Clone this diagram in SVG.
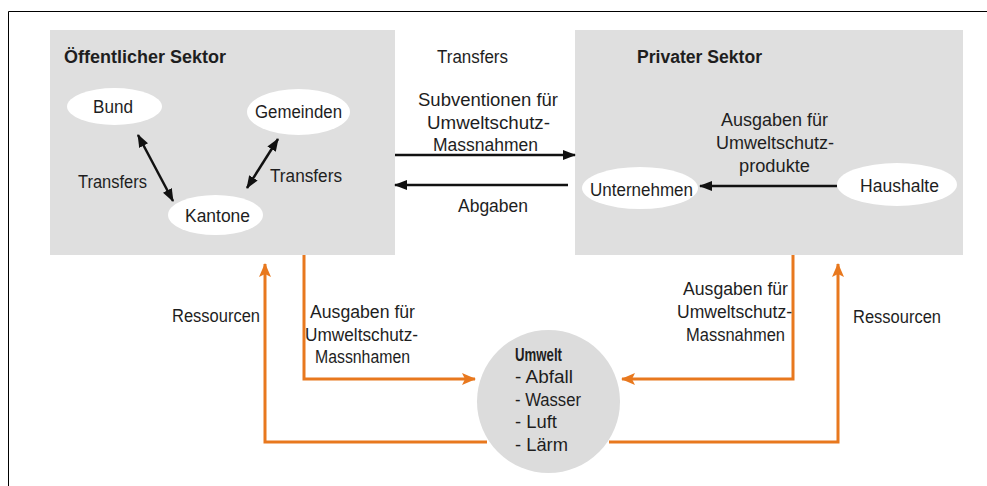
<svg xmlns="http://www.w3.org/2000/svg" width="987" height="486" viewBox="0 0 987 486">
<defs>
<style>
text{font-family:"Liberation Sans",Arial,sans-serif;font-size:17.5px;fill:#1e1e1e}
.b{font-weight:bold}
.box{fill:#dfdfdf}
.ell{fill:#ffffff}
.blk{stroke:#111;stroke-width:2.5;fill:none}
.org{stroke:#e8781e;stroke-width:3;fill:none}
</style>
<marker id="ab" markerUnits="userSpaceOnUse" viewBox="0 0 13 10" refX="12" refY="5" markerWidth="13" markerHeight="10" orient="auto-start-reverse">
<path d="M0,0 L13,5 L0,10 z" fill="#111"/>
</marker>
<marker id="ao" markerUnits="userSpaceOnUse" viewBox="0 0 14 12" refX="13" refY="6" markerWidth="14" markerHeight="12" orient="auto">
<path d="M0,0 L14,6 L0,12 L3,6 z" fill="#e8781e"/>
</marker>
</defs>
<rect width="987" height="486" fill="#fff"/>
<path d="M8.5 486 V11.5 H987" fill="none" stroke="#000" stroke-width="1"/>

<g id="oeffentlicher-sektor">
<rect class="box" x="50" y="30" width="345" height="225"/>
<text class="b" x="64" y="63" textLength="162" lengthAdjust="spacingAndGlyphs">Öffentlicher Sektor</text>
</g>
<g id="privater-sektor">
<rect class="box" x="575" y="30" width="388" height="225"/>
<text class="b" x="637" y="63" textLength="125" lengthAdjust="spacingAndGlyphs">Privater Sektor</text>
</g>
<g id="bund">
<ellipse class="ell" cx="114.5" cy="106.5" rx="47.5" ry="18.5"/>
<text x="93" y="113" textLength="40" lengthAdjust="spacingAndGlyphs">Bund</text>
</g>
<g id="gemeinden">
<ellipse class="ell" cx="298.5" cy="112" rx="51.5" ry="23"/>
<text x="255" y="118" textLength="87" lengthAdjust="spacingAndGlyphs">Gemeinden</text>
</g>
<g id="kantone">
<ellipse class="ell" cx="215.5" cy="215" rx="47.5" ry="20"/>
<text x="185" y="222" textLength="65" lengthAdjust="spacingAndGlyphs">Kantone</text>
</g>
<g id="unternehmen">
<ellipse class="ell" cx="640" cy="188" rx="58" ry="21"/>
<text x="590" y="196" textLength="103" lengthAdjust="spacingAndGlyphs">Unternehmen</text>
</g>
<g id="haushalte">
<ellipse class="ell" cx="897" cy="184.5" rx="60" ry="21.5"/>
<text x="860" y="192" textLength="79" lengthAdjust="spacingAndGlyphs">Haushalte</text>
</g>
<g id="umwelt">
<circle cx="548.5" cy="401.5" r="71.5" fill="#dcdcdc"/>
<text class="b" x="515" y="361" textLength="47" lengthAdjust="spacingAndGlyphs">Umwelt</text>
<text x="515" y="383" textLength="58" lengthAdjust="spacingAndGlyphs">- Abfall</text>
<text x="515" y="405.5" textLength="66" lengthAdjust="spacingAndGlyphs">- Wasser</text>
<text x="515" y="428" textLength="42" lengthAdjust="spacingAndGlyphs">- Luft</text>
<text x="515" y="450.5" textLength="53" lengthAdjust="spacingAndGlyphs">- Lärm</text>
</g>

<g id="connectors">
<line class="blk" x1="138" y1="135" x2="173" y2="201" marker-start="url(#ab)" marker-end="url(#ab)"/>
<line class="blk" x1="278" y1="139" x2="247" y2="188" marker-start="url(#ab)" marker-end="url(#ab)"/>
<line class="blk" x1="395" y1="155" x2="575" y2="155" marker-end="url(#ab)"/>
<line class="blk" x1="568" y1="185" x2="395" y2="185" marker-end="url(#ab)"/>
<line class="blk" x1="837" y1="186" x2="700" y2="186" marker-end="url(#ab)"/>
<path class="org" d="M304 255 V379 H475" marker-end="url(#ao)"/>
<path class="org" d="M487 442 H265 V264" marker-end="url(#ao)"/>
<path class="org" d="M793 255 V379 H622" marker-end="url(#ao)"/>
<path class="org" d="M609 442 H838 V264" marker-end="url(#ao)"/>

<text x="78" y="188" textLength="69" lengthAdjust="spacingAndGlyphs">Transfers</text>
<text x="270" y="182" textLength="72" lengthAdjust="spacingAndGlyphs">Transfers</text>
<text x="437" y="63" textLength="71" lengthAdjust="spacingAndGlyphs">Transfers</text>
<text x="418" y="106" textLength="140" lengthAdjust="spacingAndGlyphs">Subventionen für</text>
<text x="427" y="129" textLength="123" lengthAdjust="spacingAndGlyphs">Umweltschutz-</text>
<text x="433" y="151" textLength="105" lengthAdjust="spacingAndGlyphs">Massnahmen</text>
<text x="458" y="212" textLength="70" lengthAdjust="spacingAndGlyphs">Abgaben</text>
<text x="721" y="126" textLength="107" lengthAdjust="spacingAndGlyphs">Ausgaben für</text>
<text x="716" y="149" textLength="118" lengthAdjust="spacingAndGlyphs">Umweltschutz-</text>
<text x="739" y="172" textLength="71" lengthAdjust="spacingAndGlyphs">produkte</text>
<text x="172" y="322" textLength="88" lengthAdjust="spacingAndGlyphs">Ressourcen</text>
<text x="853" y="323" textLength="88" lengthAdjust="spacingAndGlyphs">Ressourcen</text>
<text x="310" y="318" textLength="105" lengthAdjust="spacingAndGlyphs">Ausgaben für</text>
<text x="305" y="341" textLength="113" lengthAdjust="spacingAndGlyphs">Umweltschutz-</text>
<text x="315" y="363" textLength="95" lengthAdjust="spacingAndGlyphs">Massnhamen</text>
<text x="683" y="295" textLength="105" lengthAdjust="spacingAndGlyphs">Ausgaben für</text>
<text x="677" y="318" textLength="115" lengthAdjust="spacingAndGlyphs">Umweltschutz-</text>
<text x="686" y="341" textLength="99" lengthAdjust="spacingAndGlyphs">Massnahmen</text>
</g>
</svg>
